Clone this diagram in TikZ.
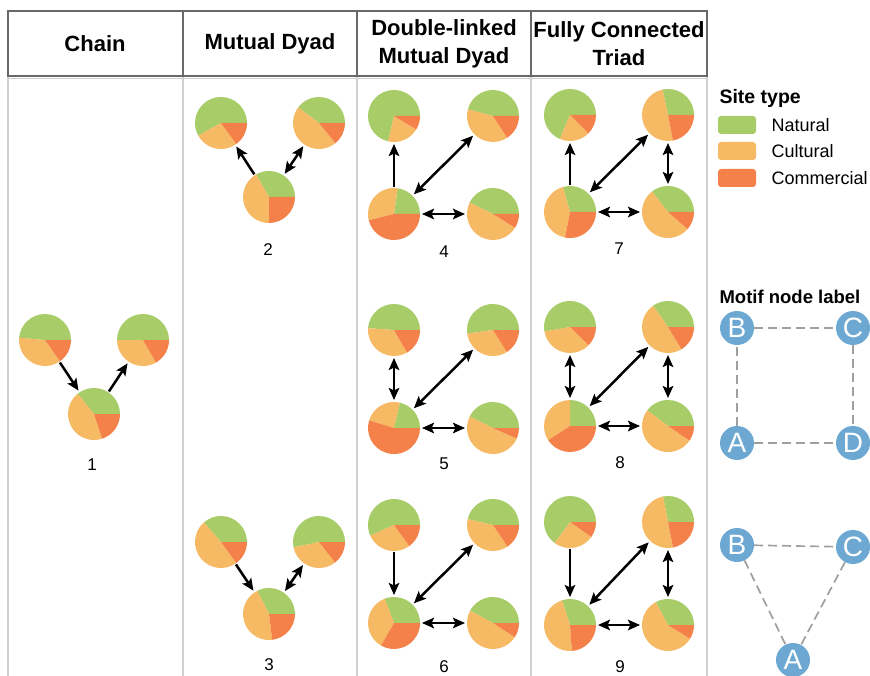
\documentclass[tikz,border=0pt]{standalone}
\usepackage{fontspec}
\setmainfont{Liberation Sans}
\usetikzlibrary{arrows.meta}
\definecolor{natural}{RGB}{168,204,104}
\definecolor{cultural}{RGB}{246,186,100}
\definecolor{commercial}{RGB}{245,129,74}
\definecolor{motifblue}{RGB}{108,168,210}
\definecolor{headgrey}{RGB}{105,105,105}
\definecolor{rulegrey}{RGB}{208,208,208}
\tikzset{
  pienode/.style={circle,minimum size=52pt,inner sep=0pt,outer sep=0pt},
  link/.style={line width=2.5pt,-{Stealth[length=12pt,width=10.5pt,inset=2.5pt]},shorten >=2pt,shorten <=1pt},
  dlink/.style={line width=2.5pt,{Stealth[length=12pt,width=10.5pt,inset=2.5pt]}-{Stealth[length=12pt,width=10.5pt,inset=2.5pt]},shorten >=2pt,shorten <=2pt},
  motiflabel/.style={font=\fontsize{17}{18}\selectfont},
  letternode/.style={circle,fill=motifblue,minimum size=34pt,inner sep=0pt,text=white,font=\fontsize{28}{28}\selectfont},
  dashlink/.style={dash pattern=on 9pt off 5pt,draw=gray!75,line width=1.7pt},
  swatch/.style={fill=#1,rounded corners=3pt,minimum width=38pt,minimum height=18pt,inner sep=0pt},
  legendtext/.style={anchor=west,font=\fontsize{18}{20}\selectfont},
  headtext/.style={font=\bfseries\fontsize{22}{28}\selectfont,align=center}
}
% pie node: name, x, y, end of natural, end of cultural
\newcommand{\sitepie}[5]{%
  \fill[natural] (#2,#3) -- ++(0:26) arc[start angle=0,end angle=#4,radius=26] -- cycle;
  \fill[cultural] (#2,#3) -- ++(#4:26) arc[start angle=#4,end angle=#5,radius=26] -- cycle;
  \fill[commercial] (#2,#3) -- ++(#5:26) arc[start angle=#5,end angle=360,radius=26] -- cycle;
  \node[pienode] (#1) at (#2,#3) {};
}
\begin{document}
\begin{tikzpicture}[x=1pt,y=1pt]
\useasboundingbox (0,0) rectangle (870,-676);
% table
\draw[rulegrey,line width=1.2pt] (8,-76) -- (8,-676);
\draw[rulegrey,line width=1.2pt] (183,-76) -- (183,-676);
\draw[rulegrey,line width=1.2pt] (357,-76) -- (357,-676);
\draw[rulegrey,line width=1.2pt] (531,-76) -- (531,-676);
\draw[rulegrey,line width=1.2pt] (707,-76) -- (707,-676);
\draw[rulegrey,line width=1pt] (8,-78.5) -- (707,-78.5);
\draw[headgrey,line width=1.5pt] (8,-11) rectangle (707,-76);
\draw[headgrey,line width=1.5pt] (183,-11) -- (183,-76);
\draw[headgrey,line width=1.5pt] (357,-11) -- (357,-76);
\draw[headgrey,line width=1.5pt] (531,-11) -- (531,-76);
\node[headtext] (hchain) at (95,-44) {Chain};
\node[headtext] (hdyad) at (270,-44) {Mutual Dyad};
\node[headtext] (hdouble) at (444,-44) {Double-linked\\Mutual Dyad};
\node[headtext] (htriad) at (619,-44) {Fully Connected\\Triad};

% motif 1
\sitepie{m1B}{45}{-340}{175}{305}
\sitepie{m1C}{143}{-340}{180}{300}
\sitepie{m1A}{94}{-414}{129}{288}
\draw[link] (m1B) -- (m1A);
\draw[link] (m1A) -- (m1C);
\node[motiflabel] (l1) at (92,-465) {1};

% motif 2
\sitepie{m2B}{221}{-123}{209}{306}
\sitepie{m2C}{319}{-123}{143}{309}
\sitepie{m2A}{269}{-197}{120}{270}
\draw[link] (m2A) -- (m2B);
\draw[dlink] (m2A) -- (m2C);
\node[motiflabel] (l2) at (268,-250) {2};

% motif 3
\sitepie{m3B}{221}{-542}{131}{306}
\sitepie{m3C}{319}{-542}{192}{308}
\sitepie{m3A}{269}{-614}{117}{277}
\draw[link] (m3B) -- (m3A);
\draw[dlink] (m3A) -- (m3C);
\node[motiflabel] (l3) at (269,-665) {3};

% motif 4
\sitepie{m4B}{394}{-116}{257}{329}
\sitepie{m4C}{493}{-116}{165}{303}
\sitepie{m4A}{394}{-214}{82}{194}
\sitepie{m4D}{493}{-214}{154}{328}
\draw[link] (m4A) -- (m4B);
\draw[dlink] (m4A) -- (m4C);
\draw[dlink] (m4A) -- (m4D);
\node[motiflabel] (l4) at (444,-252) {4};

% motif 5
\sitepie{m5B}{394}{-330}{176}{300}
\sitepie{m5C}{493}{-330}{188}{302}
\sitepie{m5A}{394}{-428}{77}{163}
\sitepie{m5D}{493}{-428}{154}{336}
\draw[dlink] (m5B) -- (m5A);
\draw[dlink] (m5A) -- (m5C);
\draw[dlink] (m5A) -- (m5D);
\node[motiflabel] (l5) at (444,-464) {5};

% motif 6
\sitepie{m6B}{394}{-525}{204}{306}
\sitepie{m6C}{493}{-525}{167}{304}
\sitepie{m6A}{394}{-623}{111}{240}
\sitepie{m6D}{493}{-623}{152}{327}
\draw[link] (m6B) -- (m6A);
\draw[dlink] (m6A) -- (m6C);
\draw[dlink] (m6A) -- (m6D);
\node[motiflabel] (l6) at (444,-667) {6};

% motif 7
\sitepie{m7B}{570}{-115}{247}{315}
\sitepie{m7C}{668}{-115}{102}{281}
\sitepie{m7A}{570}{-212}{106}{259}
\sitepie{m7D}{668}{-212}{128}{319}
\draw[link] (m7A) -- (m7B);
\draw[dlink] (m7A) -- (m7C);
\draw[dlink] (m7A) -- (m7D);
\draw[dlink] (m7C) -- (m7D);
\node[motiflabel] (l7) at (619,-249) {7};

% motif 8
\sitepie{m8B}{570}{-327}{190}{316}
\sitepie{m8C}{668}{-327}{125}{301}
\sitepie{m8A}{570}{-426}{90}{213}
\sitepie{m8D}{668}{-426}{143}{326}
\draw[dlink] (m8B) -- (m8A);
\draw[dlink] (m8A) -- (m8C);
\draw[dlink] (m8A) -- (m8D);
\draw[dlink] (m8C) -- (m8D);
\node[motiflabel] (l8) at (620,-463) {8};

% motif 9
\sitepie{m9B}{570}{-522}{234}{325}
\sitepie{m9C}{668}{-522}{101}{281}
\sitepie{m9A}{570}{-625}{108}{274}
\sitepie{m9D}{668}{-625}{118}{328}
\draw[link] (m9B) -- (m9A);
\draw[dlink] (m9A) -- (m9C);
\draw[dlink] (m9A) -- (m9D);
\draw[dlink] (m9C) -- (m9D);
\node[motiflabel] (l9) at (620,-667) {9};

% site type legend
\node[anchor=west,font=\bfseries\fontsize{19.5}{22}\selectfont] (sitetitle) at (716,-98) {Site type};
\node[swatch=natural] (swnat) at (737,-125) {};
\node[swatch=cultural] (swcul) at (737,-151) {};
\node[swatch=commercial] (swcom) at (737,-178) {};
\node[legendtext] (txnat) at (768,-125) {Natural};
\node[legendtext] (txcul) at (768,-151) {Cultural};
\node[legendtext] (txcom) at (768,-178) {Commercial};

% motif node labels
\node[anchor=west,font=\bfseries\fontsize{18.5}{22}\selectfont] (labtitle) at (716,-297) {Motif node label};
\node[letternode] (qB) at (737,-328) {B};
\node[letternode] (qC) at (853,-328) {C};
\node[letternode] (qA) at (737,-443) {A};
\node[letternode] (qD) at (853,-443) {D};
\draw[dashlink] (qB) -- (qC);
\draw[dashlink] (qC) -- (qD);
\draw[dashlink] (qA) -- (qD);
\draw[dashlink] (qA) -- (qB);
\node[letternode] (tB) at (737,-545) {B};
\node[letternode] (tC) at (853,-547) {C};
\node[letternode] (tA) at (793,-660) {A};
\draw[dashlink] (tB) -- (tC);
\draw[dashlink] (tB) -- (tA);
\draw[dashlink] (tC) -- (tA);
\end{tikzpicture}
\end{document}
